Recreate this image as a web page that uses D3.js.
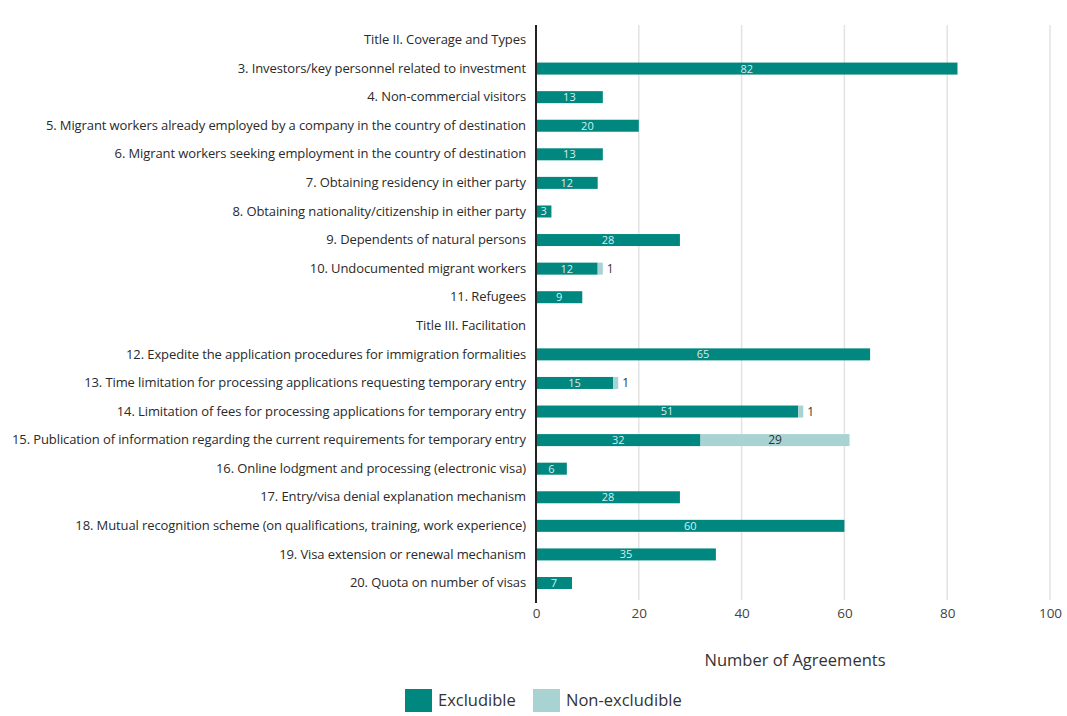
<!DOCTYPE html>
<html>
<head>
<meta charset="utf-8">
<script src="https://cdn.jsdelivr.net/npm/d3@7"></script>
<style>
  body { margin: 0; background: #fff; }
  svg { font-family: "Open Sans", sans-serif; }
</style>
</head>
<body>
<div id="graph"></div>
<script>
// categories, top to bottom
const categories = [
  'Title II. Coverage and Types',
  '3. Investors/key personnel related to investment',
  '4. Non-commercial visitors',
  '5. Migrant workers already employed by a company in the country of destination',
  '6. Migrant workers seeking employment in the country of destination',
  '7. Obtaining residency in either party',
  '8. Obtaining nationality/citizenship in either party',
  '9. Dependents of natural persons',
  '10. Undocumented migrant workers',
  '11. Refugees',
  'Title III. Facilitation',
  '12. Expedite the application procedures for immigration formalities',
  '13. Time limitation for processing applications requesting temporary entry',
  '14. Limitation of fees for processing applications for temporary entry',
  '15. Publication of information regarding the current requirements for temporary entry',
  '16. Online lodgment and processing (electronic visa)',
  '17. Entry/visa denial explanation mechanism',
  '18. Mutual recognition scheme (on qualifications, training, work experience)',
  '19. Visa extension or renewal mechanism',
  '20. Quota on number of visas'
];
const excludible    = [0, 82, 13, 20, 13, 12, 3, 28, 12, 9, 0, 65, 15, 51, 32, 6, 28, 60, 35, 7];
const nonExcludible = [0, 0, 0, 0, 0, 0, 0, 0, 1, 0, 0, 0, 1, 1, 29, 0, 0, 0, 0, 0];
const xTicks = [0, 20, 40, 60, 80, 100];
const seriesNames = ['Excludible', 'Non-excludible'];

const w = 1067, h = 716;
const colExcl = '#00877f';
const colNon = '#a9d3d3';

const rows = categories.map((c, i) => ({cat: c, ex: excludible[i], non: nonExcludible[i]}));

const svg = d3.select('#graph').append('svg')
  .attr('width', w).attr('height', h);

const xScale = d3.scaleLinear().domain([0, 100]).range([536, 1050]);
const yScale = d3.scaleBand().domain(categories)
  .range([25.7, 597.3]).paddingInner(0.58).paddingOuter(0.29);

// grid
svg.append('g').selectAll('line').data(xTicks.slice(1)).enter().append('line')
  .attr('x1', d => xScale(d)).attr('x2', d => xScale(d))
  .attr('y1', 25).attr('y2', 600)
  .attr('stroke', '#e3e3e3').attr('stroke-width', 1.5);

// x axis labels
const xAxis = d3.axisBottom(xScale).tickValues(xTicks).tickSize(0).tickPadding(8);
const gx = svg.append('g').attr('transform', 'translate(0,600)').call(xAxis);
gx.select('.domain').remove();
gx.selectAll('text').style('font-size', '13.5px').attr('fill', '#444')
  .attr('font-family', '"Open Sans", sans-serif');

// y labels
const yAxis = d3.axisLeft(yScale).tickSize(0).tickPadding(10);
const gy = svg.append('g').attr('transform', 'translate(536,0)').call(yAxis);
gy.select('.domain').remove();
gy.selectAll('text').style('font-size', '13px').attr('fill', '#2a2a2a')
  .attr('font-family', '"Open Sans", sans-serif').attr('letter-spacing', '-0.1px');

// bars
const bw = yScale.bandwidth();
svg.append('g').selectAll('rect.ex').data(rows.filter(d => d.ex > 0)).enter().append('rect')
  .attr('class', 'ex')
  .attr('x', xScale(0)).attr('y', d => yScale(d.cat))
  .attr('width', d => xScale(d.ex) - xScale(0)).attr('height', bw)
  .attr('fill', colExcl);

svg.append('g').selectAll('rect.non').data(rows.filter(d => d.non > 0)).enter().append('rect')
  .attr('class', 'non')
  .attr('x', d => xScale(d.ex)).attr('y', d => yScale(d.cat))
  .attr('width', d => xScale(d.ex + d.non) - xScale(d.ex)).attr('height', bw)
  .attr('fill', colNon);

// value labels
svg.append('g').selectAll('text').data(rows.filter(d => d.ex > 0)).enter().append('text')
  .attr('x', d => xScale(d.ex / 2)).attr('y', d => yScale(d.cat) + bw / 2)
  .attr('dy', '0.36em').attr('text-anchor', 'middle')
  .style('font-size', '11px').attr('fill', '#d8eeee')
  .text(d => d.ex);

svg.append('g').selectAll('text').data(rows.filter(d => d.non > 0)).enter().append('text')
  .attr('x', d => d.non > 5 ? xScale(d.ex + d.non / 2) : xScale(d.ex + d.non) + 4)
  .attr('y', d => yScale(d.cat) + bw / 2)
  .attr('dy', '0.36em').attr('text-anchor', d => d.non > 5 ? 'middle' : 'start')
  .style('font-size', '12px').attr('fill', '#333')
  .text(d => d.non);

// y axis line
svg.append('line')
  .attr('x1', 536).attr('x2', 536).attr('y1', 25).attr('y2', 603)
  .attr('stroke', '#222').attr('stroke-width', 2);

// axis title
svg.append('text')
  .attr('x', 795).attr('y', 666).attr('text-anchor', 'middle')
  .style('font-size', '16.5px').attr('fill', '#333')
  .text('Number of Agreements');

// legend
const legend = svg.append('g').attr('transform', 'translate(405,689)');
const legItems = legend.selectAll('g').data(seriesNames).enter().append('g')
  .attr('transform', (d, i) => `translate(${i * 128},0)`);
legItems.append('rect')
  .attr('width', 27).attr('height', 23)
  .attr('fill', (d, i) => i === 0 ? colExcl : colNon);
legItems.append('text')
  .attr('x', 33).attr('y', 11.5).attr('dy', '0.36em')
  .style('font-size', '16.5px').attr('fill', '#333')
  .text(d => d);
</script>
</body>
</html>
